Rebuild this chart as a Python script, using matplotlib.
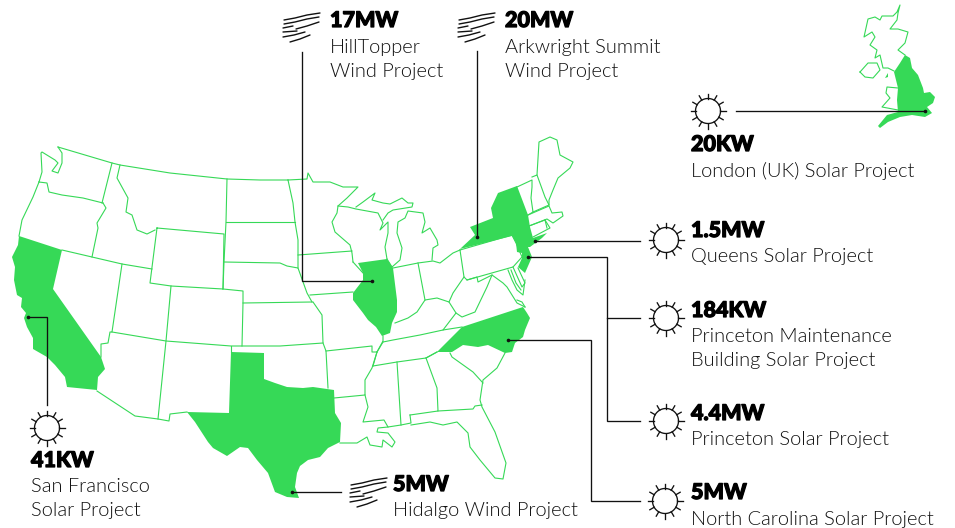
# -*- coding: utf-8 -*-
# clean energy projects map, shapes in pixel coordinates
import numpy as np
import matplotlib
matplotlib.use('Agg')
import matplotlib.pyplot as plt
import matplotlib.patheffects as pe

GREEN = '#36D957'
BLACK = '#111111'

# filled regions
california = [(19,236),(62,250),(53,289),(101,357),(105,369),(98,377),(97,390),(67,387),(65,377),(55,365),(47,357),(33,349),(33,338),(27,327),(24,318),(26,313),(21,307),(22,298),(17,295),(14,280),(15,267),(12,257),(18,245)]
texas = [(231,352),(264,353),(264,379),(275,383),(287,387),(303,388),(313,387),(327,389),(334,390),(335,413),(341,423),(340,442),(328,448),(320,457),(308,460),(300,466),(297,473),(295,487),(299,498),(287,497),(275,492),(268,473),(257,460),(248,448),(240,447),(227,456),(213,448),(208,442),(195,422),(187,412),(229,413)]
illinois = [(358,263),(387,259),(393,268),(397,300),(397,312),(392,323),(390,333),(382,336),(376,327),(368,320),(363,313),(353,300),(353,293),(363,280),(363,273)]
new_york = [(460,249),(475,235),(470,227),(493,218),(491,208),(498,193),(517,186),(528,215),(530,227),(533,238),(547,233),(542,238),(530,247),(528,247),(532,257),(525,273),(518,267),(522,258),(522,253),(517,252),(516,243),(512,236)]
north_carolina = [(437,352),(462,327),(523,307),(527,313),(530,318),(525,330),(523,337),(515,343),(512,352),(505,353),(488,345),(478,347),(463,345),(452,352)]
england = [(905,55),(910,58),(912,68),(918,75),(923,88),(924,93),(930,92),(935,97),(933,103),(927,107),(932,113),(925,117),(912,115),(900,117),(888,122),(880,128),(878,126),(887,115),(898,112),(897,100),(898,88),(896,80),(894,72),(900,63)]
isle_of_man = [(885,78),(888,73),(888,77)]
FILLED = [california, texas, illinois, new_york, north_carolina, england, isle_of_man]

# borders and coasts
north_border = [(58,147),(112,163),(120,165),(170,173),(227,179),(260,180),(288,180)]
wa_coast = [(58,147),(62,153),(62,163),(58,173),(52,171),(58,163),(55,160),(42,152),(41,153),(42,172),(39,182)]
wa_south = [(39,182),(47,183),(49,192),(62,195),(83,198),(103,203)]
wa_id = [(112,163),(102,203)]
or_coast = [(39,182),(33,197),(22,220),(19,236)]
or_east = [(103,203),(106,208),(97,223),(98,228),(92,257)]
nv_north = [(62,250),(92,257),(122,264),(152,269)]
id_mt = [(120,165),(117,178),(128,198),(126,212),(132,215),(137,230),(147,234),(155,230)]
wyoming = [(157,228),(224,234),(223,289),(171,286),(150,283),(157,228)]
mt_east = [(227,179),(226,222),(224,262),(223,289)]
dakota_line = [(226,222),(295,222)]
nd_east = [(288,180),(293,203),(295,222),(298,240),(298,255),(298,268)]
ne_north = [(224,262),(280,263),(287,266),(298,268),(307,293),(312,302)]
ne_south = [(243,303),(312,302)]
co_east = [(223,289),(243,291),(243,303),(242,346)]
ut_co = [(171,286),(166,341),(158,419)]
nv_ut = [(122,264),(112,332),(110,332),(108,343),(101,344),(101,357)]
four_corners = [(112,332),(166,341),(231,346),(242,346),(280,346),(323,343)]
az_south = [(97,391),(135,416),(158,419),(169,421),(170,414),(187,412)]
nm_east = [(231,346),(231,352)]
ks_east = [(313,302),(322,315),(323,343),(326,351),(328,388)]
mo_south = [(326,351),(372,346),(372,352),(377,352),(383,342)]
ar = [(334,398),(365,395),(365,380),(372,368),(377,352)]
la = [(365,395),(368,407),(363,422),(384,420),(388,427)]
gulf = [(340,443),(357,443),(367,437),(370,445),(382,447),(383,440),(392,447),(395,442),(388,433),(377,432),(378,428),(388,427),(401,425),(411,423),(410,415)]
tn_north = [(383,342),(393,340),(420,335),(443,330),(462,327)]
tn_south = [(373,366),(397,362),(426,358),(437,352)]
ms_west = [(377,352),(373,366)]
ms_al = [(397,362),(401,425)]
al_ga = [(426,358),(437,388),(438,411),(410,415)]
ga_fl = [(438,411),(473,409),(475,406),(482,405)]
ga_sc = [(450,353),(452,357),(473,372),(483,383)]
ga_top = [(426,358),(437,352)]
atlantic = [(505,353),(497,368),(483,380),(480,400),(482,407),(495,432),(506,463),(503,479),(495,478),(480,460),(470,447),(468,433),(457,422),(443,425),(430,422),(411,425)]
mn = [(288,180),(307,179),(308,173),(313,182),(330,182),(343,187),(358,187),(347,198),(338,206),(337,213),(332,222),(335,232),(350,245),(352,253),(353,262)]
mn_south = [(298,255),(352,251)]
wi_north = [(338,206),(348,207),(356,209),(378,213),(383,223),(380,230),(388,222),(388,233),(385,247),(387,259)]
ia = [(353,262),(363,273)]
ia_south = [(310,295),(353,292)]
mo_east = [(383,336),(383,341),(377,352)]
up_mi = [(356,207),(363,202),(375,193),(372,200),(383,203),(390,204),(402,198),(408,203),(413,203),(412,207),(393,210),(388,213),(383,220)]
lp_mi = [(387,259),(392,267),(400,260),(402,248),(397,233),(398,222),(405,218),(408,211),(423,213),(425,222),(422,233),(430,228),(437,240),(438,245),(433,248),(432,260)]
in_north = [(393,268),(418,263),(433,261),(440,263),(453,253),(460,250)]
in_east = [(418,263),(425,300)]
ohio_river = [(395,323),(408,318),(417,312),(425,300),(437,298),(449,302),(453,293),(464,277),(460,250)]
ky_east = [(449,302),(456,313),(443,330)]
wv = [(464,277),(467,280),(477,277),(478,282),(492,275),(503,283),(507,287),(517,303),(525,307)]
wv_south = [(456,313),(462,317),(475,312),(487,287),(492,275)]
pa = [(460,250),(512,235),(516,243),(522,257),(513,267),(467,280)]
md = [(513,267),(522,287),(525,283),(518,268)]
chesapeake = [(508,270),(512,280),(517,290),(523,295),(525,280)]
delmarva = [(511,270),(516,283),(521,290)]
va_coast = [(517,300),(522,302),(525,307)]
vt = [(517,187),(532,180),(532,187),(531,198),(533,212),(528,215)]
nh = [(532,177),(537,175),(545,197),(549,205),(533,212)]
me = [(537,175),(539,142),(550,137),(557,140),(560,155),(573,162),(570,168),(558,178),(553,190),(549,200),(549,205)]
ma = [(528,215),(549,206),(552,213),(562,212),(563,216),(553,223),(547,219),(529,226)]
ct = [(529,226),(545,220),(550,228),(533,237)]
ri = [(545,220),(547,228)]
scotland = [(905,55),(898,50),(905,43),(908,32),(898,29),(890,29),(897,20),(898,13),(900,5),(897,12),(893,16),(882,16),(880,20),(875,17),(868,19),(864,37),(872,32),(875,37),(870,45),(877,50),(875,58),(880,55),(883,68),(888,68),(894,71)]
wales = [(898,88),(887,87),(886,93),(890,98),(882,107),(898,110)]
n_ireland = [(860,72),(868,63),(877,63),(880,70),(873,78),(865,77),(860,72)]
OUTLINES = [north_border, wa_coast, wa_south, wa_id, or_coast, or_east, nv_north, id_mt, wyoming, mt_east,
            dakota_line, nd_east, ne_north, ne_south, co_east, ut_co, nv_ut, four_corners, az_south, nm_east,
            ks_east, mo_south, ar, la, gulf, tn_north, tn_south, ms_west, ms_al, al_ga, ga_fl, ga_sc, ga_top,
            atlantic, mn, mn_south, wi_north, ia, ia_south, mo_east, up_mi, lp_mi, in_north,
            in_east, ohio_river, ky_east, wv, wv_south, pa, md, chesapeake, delmarva, va_coast, vt, nh, me,
            ma, ct, ri, scotland, wales, n_ireland]

# leader lines, the last point of each gets a dot
leader_hilltopper = [(302,52),(302,281),(372,281)]
leader_arkwright = [(477,51),(477,237)]
leader_london = [(736,111),(925,111)]
leader_queens = [(640,241),(535,241)]
leader_princeton = [(640,421),(607,421),(607,257),(528,257)]
leader_nc = [(640,501),(591,501),(591,340),(508,340)]
leader_sf = [(47,405),(47,317),(28,317)]
leader_hidalgo = [(341,492),(292,492)]
LEADERS = [leader_hilltopper, leader_arkwright, leader_london, leader_queens, leader_princeton,
           leader_nc, leader_sf, leader_hidalgo]
leader_maintenance = [(640,318),(607,318)]

sun_x = [708, 666, 666, 666, 665, 47]
sun_y = [111, 240, 318, 421, 501, 428]
wind_x = [283, 458, 350]
wind_y = [12, 12, 477]
wind_strokes = [[(1,8),(12,6),(24,3),(37,1)],
                [(1,12),(12,10),(24,7),(36,5)],
                [(0,16),(10,14)],
                [(13,17),(24,14),(36,10)],
                [(0,20),(14,19)],
                [(0,25),(11,23),(22,20)],
                [(7,30),(17,27),(27,23)]]

head_x = [330, 505, 691, 691, 691, 691, 691, 31, 393]
head_y = [27, 27, 151, 237, 317, 420, 499, 467, 491]
head_txt = ['17MW', '20MW', '20KW', '1.5MW', '184KW', '4.4MW', '5MW', '41KW', '5MW']

body_x = [330, 330, 505, 505, 691, 691, 691, 691, 691, 691, 31, 31, 393]
body_y = [53, 77, 53, 77, 177, 262, 342, 366, 445, 525, 492, 516, 516]
body_txt = ['HillTopper', 'Wind Project', 'Arkwright Summit', 'Wind Project', 'London (UK) Solar Project',
            'Queens Solar Project', 'Princeton Maintenance', 'Building Solar Project', 'Princeton Solar Project',
            'North Carolina Solar Project', 'San Francisco', 'Solar Project', 'Hidalgo Wind Project']

fig = plt.figure(figsize=(9.55, 5.28), dpi=100)
ax = fig.add_axes([0, 0, 1, 1])
ax.set_xlim(0, 955)
ax.set_ylim(528, 0)
ax.axis('off')

for s in OUTLINES:
    s = np.array(s)
    ax.plot(s[:,0], s[:,1], color=GREEN, lw=0.8, solid_joinstyle='round', zorder=1)
for s in FILLED:
    s = np.array(s)
    ax.fill(s[:,0], s[:,1], color=GREEN, lw=0, zorder=2)

for s in LEADERS + [leader_maintenance]:
    s = np.array(s)
    ax.plot(s[:,0], s[:,1], color=BLACK, lw=0.95, solid_joinstyle='miter', zorder=3)
for s in LEADERS:
    ax.plot(s[-1][0], s[-1][1], 'o', ms=2.6, color=BLACK, mew=0, zorder=4)

# suns
ang = np.linspace(0, 2*np.pi, 100)
ray = np.deg2rad(np.arange(0, 360, 30))
for x, y in zip(sun_x, sun_y):
    ax.plot(x+12.5*np.cos(ang), y+12.5*np.sin(ang), color=BLACK, lw=0.95, zorder=3)
    for a in ray:
        ax.plot([x+12.5*np.cos(a), x+17.5*np.cos(a)], [y+12.5*np.sin(a), y+17.5*np.sin(a)],
                color=BLACK, lw=0.95, zorder=3)

# wind
for x, y in zip(wind_x, wind_y):
    for st in wind_strokes:
        st = np.array(st)
        ax.plot(x+st[:,0], y+st[:,1], color=BLACK, lw=1.0, solid_capstyle='round', zorder=3)

for x, y, t in zip(head_x, head_y, head_txt):
    ax.text(x, y, t, family='Lato', weight=900, fontsize=15.5, color='black', va='baseline', ha='left',
            path_effects=[pe.withStroke(linewidth=0.9, foreground='black')])
for x, y, t in zip(body_x, body_y, body_txt):
    ax.text(x, y, t, family='Lato', weight=300, fontsize=14.4, color='#111111', va='baseline', ha='left')

plt.savefig('out.png', dpi=100)
